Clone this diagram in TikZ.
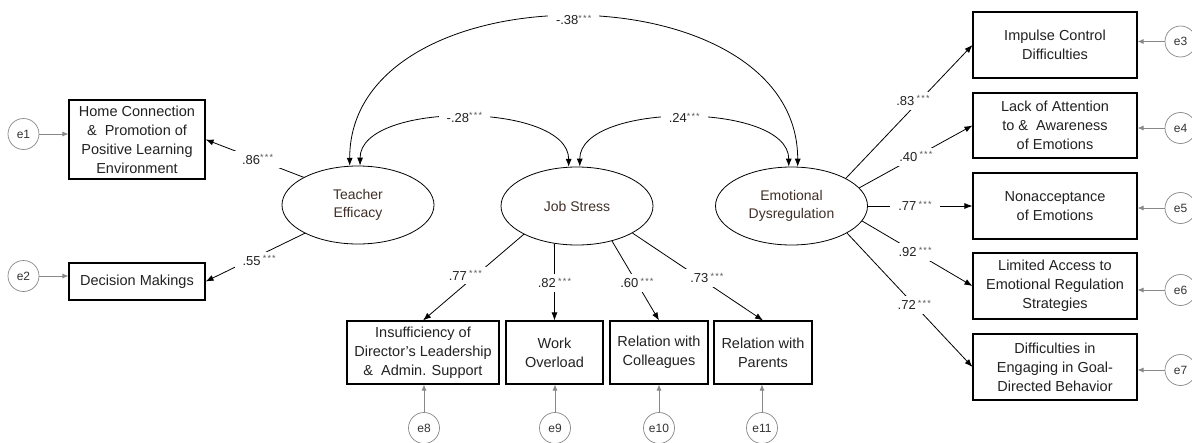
\documentclass[tikz,border=0pt]{standalone}
\usepackage{fontspec}
\setmainfont{Liberation Sans}
\usetikzlibrary{arrows.meta,shapes.geometric}
\definecolor{egray}{RGB}{136,136,136}
\definecolor{latxt}{RGB}{64,48,40}
\definecolor{boxtxt}{RGB}{34,34,34}
\definecolor{stargray}{RGB}{90,90,90}
\newcommand\mysig{\raisebox{3.5pt}{\color{stargray}\fontsize{9}{9}\selectfont *\kern1.2pt*\kern1.2pt*}}
\begin{document}
\begin{tikzpicture}[x=1pt,y=-1pt,
  obs/.style={draw=black,line width=1.1pt,rectangle,inner sep=0pt,align=center,text=boxtxt,font=\fontsize{14.5}{19}\selectfont},
  lat/.style={draw=black,line width=0.8pt,ellipse,inner sep=0pt,minimum width=152pt,minimum height=78pt,align=center,text=latxt,font=\fontsize{14}{18}\selectfont},
  err/.style={draw=egray,line width=0.7pt,circle,inner sep=0pt,minimum size=31pt,font=\fontsize{12}{12}\selectfont,text=black!80},
  load/.style={draw=black,line width=0.8pt,-{Latex[length=8pt,width=6pt]}},
  cov/.style={draw=black,line width=0.8pt,{Latex[length=8pt,width=6pt]}-{Latex[length=8pt,width=6pt]}},
  eline/.style={draw=egray,line width=0.8pt,-{Latex[length=6pt,width=5pt]}},
  lbl/.style={fill=white,inner xsep=8pt,inner ysep=4pt,font=\fontsize{13}{14}\selectfont,text=boxtxt}
]
\useasboundingbox (0,0) rectangle (1192,442);
\fill[white] (0,0) rectangle (1192,442);

% latent variables
\node[lat] (te) at (358,205) {Teacher\\Efficacy};
\node[lat] (js) at (577,206) {Job Stress};
\node[lat] (ed) at (791.5,206) {Emotional\\Dysregulation};

% observed, left
\node[obs,minimum width=136pt,minimum height=79pt] (hc) at (137,139.5) {Home Connection\\\&\ \ Promotion of\\Positive Learning\\Environment};
\node[obs,minimum width=136pt,minimum height=37pt] (dm) at (137,281.5) {Decision Makings};

% observed, right
\node[obs,minimum width=164pt,minimum height=66pt] (ic) at (1055,45) {Impulse Control\\Difficulties};
\node[obs,minimum width=164pt,minimum height=65pt] (la) at (1055,125.5) {Lack of Attention\\to \&\ \ Awareness\\of Emotions};
\node[obs,minimum width=164pt,minimum height=66pt] (na) at (1055,206) {Nonacceptance\\of Emotions};
\node[obs,minimum width=164pt,minimum height=66pt] (lm) at (1055,286) {Limited Access to\\Emotional Regulation\\Strategies};
\node[obs,minimum width=164pt,minimum height=66pt] (dg) at (1055,367) {Difficulties in\\Engaging in Goal-\\Directed Behavior};

% observed, bottom
\node[obs,minimum width=152pt,minimum height=63pt] (ins) at (423,352.5) {Insufficiency of\\Director’s Leadership\\\&\ \ Admin. Support};
\node[obs,minimum width=97pt,minimum height=63pt] (wo) at (554.5,352.5) {Work\\Overload};
\node[obs,minimum width=98pt,minimum height=63pt] (rc) at (659,352.5) {Relation with\\Colleagues};
\node[obs,minimum width=98pt,minimum height=63pt] (rp) at (763,352.5) {Relation with\\Parents};

% error terms
\node[err] (e1) at (23.5,134) {e1};
\node[err] (e2) at (23.5,276) {e2};
\node[err] (e3) at (1180.5,41.5) {e3};
\node[err] (e4) at (1180.5,128) {e4};
\node[err] (e5) at (1180.5,208) {e5};
\node[err] (e6) at (1180.5,290) {e6};
\node[err] (e7) at (1180.5,370) {e7};
\node[err] (e8) at (424,428) {e8};
\node[err] (e9) at (555,428) {e9};
\node[err] (e10) at (659,428) {e10};
\node[err] (e11) at (762,428) {e11};

\draw[eline] (e1.east) -- (e1.east -| hc.west);
\draw[eline] (e2.east) -- (e2.east -| dm.west);
\draw[eline] (e3.west) -- (e3.west -| ic.east);
\draw[eline] (e4.west) -- (e4.west -| la.east);
\draw[eline] (e5.west) -- (e5.west -| na.east);
\draw[eline] (e6.west) -- (e6.west -| lm.east);
\draw[eline] (e7.west) -- (e7.west -| dg.east);
\draw[eline] (e8.north) -- (e8.north |- ins.south);
\draw[eline] (e9.north) -- (e9.north |- wo.south);
\draw[eline] (e10.north) -- (e10.north |- rc.south);
\draw[eline] (e11.north) -- (e11.north |- rp.south);

% loadings
\draw[load] (te.153) -- node[lbl,pos=0.47] (l1) {.86\mysig} (hc.east);
\draw[load] (te.208) -- node[lbl,pos=0.46,yshift=-5pt] (l2) {.55\,\mysig} (dm.east);
\draw[load] (js.208) -- node[lbl,pos=0.48,xshift=-10pt] (l3) {.77\,\mysig} (ins.north);
\draw[load] (js.239) -- node[lbl,pos=0.51] (l4) {.82\,\mysig} (wo.north);
\draw[load] (js.315) -- node[lbl,pos=0.53] (l5) {.60\,\mysig} (rc.north);
\draw[load] (js.334) -- node[lbl,pos=0.57,yshift=5pt] (l6) {.73\,\mysig} (rp.north);
\draw[load] (ed.27) -- node[lbl,pos=0.53,yshift=7pt] (l7) {.83\,\mysig} (ic.west);
\draw[load] (ed.15) -- node[lbl,pos=0.5] (l8) {.40\,\mysig} (la.west);
\draw[load] (ed.east) -- node[lbl,pos=0.45] (l9) {.77\,\mysig} (na.west);
\draw[load] (ed.348) -- node[lbl,pos=0.48] (l10) {.92\,\mysig} (lm.west);
\draw[load] (ed.334) -- node[lbl,pos=0.536] (l11) {.72\,\mysig} (dg.west);

% covariances
\draw[cov] (te.102) .. controls +(0,-199) and +(0,-199) .. (ed.81) node[lbl,pos=0.5,yshift=-3pt] (c1) {-.38\mysig};
\draw[cov] (te.87) .. controls +(0,-65) and +(0,-65) .. (js.102) node[lbl,pos=0.5] (c2) {-.28\mysig};
\draw[cov] (js.86) .. controls +(0,-65) and +(0,-65) .. (ed.94) node[lbl,pos=0.5] (c3) {.24\mysig};
\end{tikzpicture}
\end{document}
